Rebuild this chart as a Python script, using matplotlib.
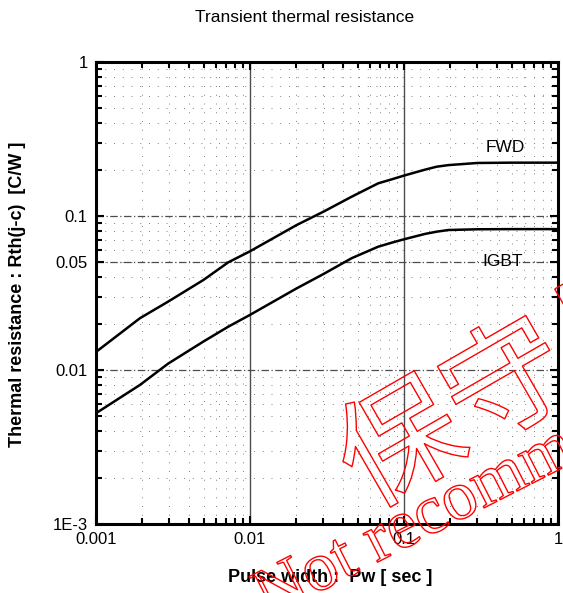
"""
Transient thermal resistance curves (FWD / IGBT), log-log.
"""

import numpy as np
import matplotlib
matplotlib.use("Agg")
import matplotlib.pyplot as plt
import matplotlib.ticker as mticker
import matplotlib.patheffects as pe


# Values
pulse_width = np.array([0.001, 0.00193, 0.00294, 0.00498, 0.00722, 0.01, 0.0201, 0.030,
                        0.0457, 0.068, 0.0832, 0.1, 0.137, 0.163, 0.194, 0.3, 0.5, 1.0])
rth_fwd = np.array([0.0131, 0.0217, 0.0278, 0.0384, 0.050, 0.0590, 0.0874, 0.1067,
                    0.1334, 0.163, 0.173, 0.183, 0.200, 0.209, 0.214, 0.221, 0.222, 0.222])
rth_igbt = np.array([0.00524, 0.0080, 0.0110, 0.0153, 0.0191, 0.0228, 0.0339, 0.042,
                     0.0532, 0.0632, 0.0671, 0.0706, 0.0765, 0.0791, 0.0811, 0.0820,
                     0.0822, 0.0822])

x_ticks = [0.001, 0.01, 0.1, 1]
x_ticklabels = ["0.001", "0.01", "0.1", "1"]
y_ticks = [0.001, 0.01, 0.05, 0.1, 1]
y_ticklabels = ["1E-3", "0.01", "0.05", "0.1", "1"]

plt.rcParams['font.family'] = ['Liberation Sans', 'DejaVu Sans']

fig = plt.figure(figsize=(5.63, 5.93), dpi=100)
ax = fig.add_axes([96 / 563, 69 / 593, 462 / 563, 462 / 593])

ax.set_xscale('log')
ax.set_yscale('log')
ax.set_xlim(0.001, 1)
ax.set_ylim(0.001, 1)

# sparse dotted minor grid
for d in [0.001, 0.01, 0.1]:
    for m in range(2, 10):
        ax.axvline(d * m, color='0.5', lw=0.7, ls=(0, (1, 8)), zorder=1)
        ax.axhline(d * m, color='0.5', lw=0.7, ls=(0, (1, 8)), zorder=1)

# major grid lines
for xv in [0.01, 0.1]:
    ax.axvline(xv, color='0.3', lw=1.0, zorder=1)
for yv in [0.01, 0.05, 0.1]:
    ax.axhline(yv, color='0.3', lw=0.9, ls=(0, (6, 2, 1, 2)), zorder=1)

ax.plot(pulse_width, rth_fwd, color='black', lw=1.8, zorder=3)
ax.plot(pulse_width, rth_igbt, color='black', lw=1.8, zorder=3)

ax.text(0.455, 0.28, "FWD", fontsize=12.5, ha='center', va='center')
ax.text(0.44, 0.0503, "IGBT", fontsize=12.5, ha='center', va='center')

ax.xaxis.set_major_locator(mticker.FixedLocator(x_ticks))
ax.xaxis.set_major_formatter(mticker.FixedFormatter(x_ticklabels))
ax.yaxis.set_major_locator(mticker.FixedLocator(y_ticks))
ax.yaxis.set_major_formatter(mticker.FixedFormatter(y_ticklabels))
ax.xaxis.set_minor_locator(mticker.LogLocator(base=10, subs=np.arange(2, 10)))
ax.yaxis.set_minor_locator(mticker.LogLocator(base=10, subs=np.arange(2, 10)))
ax.xaxis.set_minor_formatter(mticker.NullFormatter())
ax.yaxis.set_minor_formatter(mticker.NullFormatter())

ax.tick_params(which='both', direction='in', top=True, right=True, width=1.5)
ax.tick_params(which='major', length=6, labelsize=12, pad=6)
ax.tick_params(which='minor', length=4)

for sp in ax.spines.values():
    sp.set_linewidth(2.2)

fig.text(305 / 563, 1 - 18 / 593, "Transient thermal resistance", fontsize=12.5,
         ha='center', va='center')
fig.text(330 / 563, 1 - 578 / 593, "Pulse width :  Pw [ sec ]", fontsize=13,
         fontweight='bold', ha='center', va='center')
fig.text(18 / 563, 1 - 294 / 593, "Thermal resistance : Rth(j-c)  [C/W ]", fontsize=13,
         fontweight='bold', ha='center', va='center', rotation=90)

# red outlined watermark
outline = [pe.Stroke(linewidth=1.0, foreground='red')]
fig.text(509 / 563, 1 - 388 / 593, "保守品", fontsize=88, color='none',
         family=['Noto Sans CJK JP'], rotation=30, rotation_mode='anchor',
         ha='center', va='center', path_effects=outline)
fig.text(268 / 563, 1 - 618 / 593, "Not recommended", fontsize=50, color='none',
         family=['Liberation Serif'], rotation=27, rotation_mode='anchor',
         ha='left', va='baseline', path_effects=outline)

fig.savefig('out.png', dpi=100)
